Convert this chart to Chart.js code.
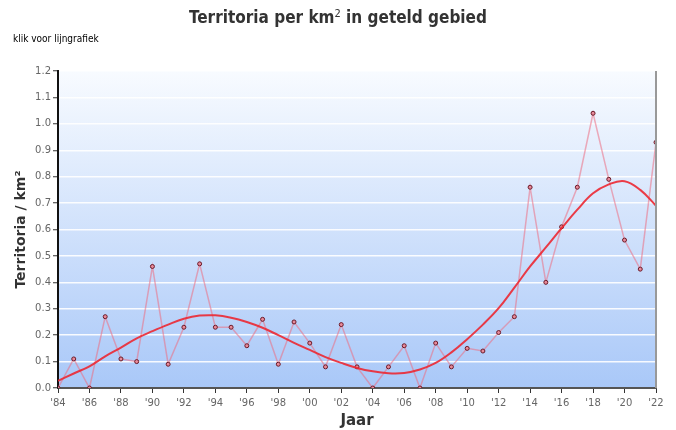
<!DOCTYPE html>
<html lang="nl">
<head>
    <meta charset="UTF-8">
    <title>Territoria per km² in geteld gebied</title>
    <script src="https://cdn.jsdelivr.net/npm/chart.js"></script>
    <style>
        body {
            margin: 0;
            background: #fff;
            font-family: 'DejaVu Sans', sans-serif;
        }
        .wrap {
            position: relative;
            width: 676px;
            height: 430px;
        }
        .title {
            position: absolute;
            left: 0;
            top: 7px;
            width: 676px;
            text-align: center;
            font-family: 'DejaVu Sans Condensed', 'DejaVu Sans', sans-serif;
            font-weight: bold;
            font-size: 17px;
            color: #333;
        }
        .title sup {
            font-size: 11px;
            font-weight: normal;
            vertical-align: 6px;
        }
        .link {
            position: absolute;
            left: 13px;
            top: 33px;
            font-family: 'DejaVu Sans Condensed', 'DejaVu Sans', sans-serif;
            font-size: 10px;
            color: #000;
        }
        canvas {
            position: absolute;
            left: 0;
            top: 0;
        }
    </style>
</head>
<body>
    <div class="wrap">
        <canvas id="chart" width="676" height="430"></canvas>
        <div class="title">Territoria per km<sup>2</sup> in geteld gebied</div>
        <div class="link">klik voor lijngrafiek</div>
    </div>

    <script>
        const years = [1984, 1985, 1986, 1987, 1988, 1989, 1990, 1991, 1992, 1993,
                       1994, 1995, 1996, 1997, 1998, 1999, 2000, 2001, 2002, 2003,
                       2004, 2005, 2006, 2007, 2008, 2009, 2010, 2011, 2012, 2013,
                       2014, 2015, 2016, 2017, 2018, 2019, 2020, 2021, 2022];

        // territoria per km2 per jaar
        const density = [0.00, 0.11, 0.00, 0.27, 0.11, 0.10, 0.46, 0.09, 0.23, 0.47,
                         0.23, 0.23, 0.16, 0.26, 0.09, 0.25, 0.17, 0.08, 0.24, 0.08,
                         0.00, 0.08, 0.16, 0.00, 0.17, 0.08, 0.15, 0.14, 0.21, 0.27,
                         0.76, 0.40, 0.61, 0.76, 1.04, 0.79, 0.56, 0.45, 0.93];

        // trendlijn
        const trend = [0.027, 0.055, 0.082, 0.120, 0.153, 0.188, 0.215, 0.240, 0.262, 0.274,
                       0.275, 0.266, 0.250, 0.228, 0.200, 0.171, 0.144, 0.117, 0.095, 0.076,
                       0.063, 0.056, 0.057, 0.070, 0.095, 0.135, 0.185, 0.240, 0.302, 0.380,
                       0.460, 0.532, 0.605, 0.675, 0.737, 0.771, 0.783, 0.750, 0.690];

        const yTicks = [0, 0.1, 0.2, 0.3, 0.4, 0.5, 0.6, 0.7, 0.8, 0.9, 1.0, 1.1, 1.2];

        const points = (vals) => years.map((y, i) => ({ x: y, y: vals[i] }));

        const plotBackground = {
            id: 'plotBackground',
            beforeDraw(chart) {
                const { ctx, chartArea: a } = chart;
                const g = ctx.createLinearGradient(0, a.top, 0, a.bottom);
                g.addColorStop(0, '#f8fbff');
                g.addColorStop(1, '#a9c8f8');
                ctx.save();
                ctx.fillStyle = g;
                ctx.fillRect(a.left, a.top, a.right - a.left, a.bottom - a.top);
                ctx.restore();
            },
            afterDraw(chart) {
                const { ctx, chartArea: a } = chart;
                ctx.save();
                ctx.strokeStyle = '#999';
                ctx.lineWidth = 2;
                ctx.beginPath();
                ctx.moveTo(a.right, a.top);
                ctx.lineTo(a.right, a.bottom);
                ctx.stroke();
                ctx.restore();
            }
        };

        new Chart(document.getElementById('chart'), {
            type: 'line',
            data: {
                datasets: [
                    {
                        label: 'Trend',
                        data: points(trend),
                        borderColor: 'rgba(236, 40, 50, 0.9)',
                        borderWidth: 2,
                        tension: 0.4,
                        pointRadius: 0,
                        fill: false
                    },
                    {
                        label: 'Territoria per km²',
                        data: points(density),
                        borderColor: 'rgba(236, 110, 130, 0.55)',
                        borderWidth: 1.5,
                        tension: 0,
                        pointRadius: 2,
                        pointBorderWidth: 1,
                        pointBorderColor: '#6a1a28',
                        pointBackgroundColor: '#e88a9a',
                        fill: false
                    }
                ]
            },
            options: {
                responsive: false,
                animation: false,
                layout: {
                    padding: { top: 71, right: 20, bottom: 0, left: 13 }
                },
                plugins: {
                    legend: { display: false },
                    tooltip: { enabled: false }
                },
                scales: {
                    x: {
                        type: 'linear',
                        min: 1984,
                        max: 2022,
                        afterFit(scale) { scale.height = 42; },
                        afterBuildTicks(scale) {
                            scale.ticks = years.filter(y => y % 2 === 0).map(v => ({ value: v }));
                        },
                        ticks: {
                            callback: v => "'" + String(v).slice(2),
                            color: '#666',
                            font: { family: 'DejaVu Sans', size: 10 },
                            padding: 4,
                            maxRotation: 0,
                            autoSkip: false
                        },
                        grid: {
                            drawOnChartArea: false,
                            tickColor: '#333',
                            tickLength: 5,
                            tickWidth: 1
                        },
                        border: { color: '#555', width: 2 },
                        title: {
                            display: true,
                            text: 'Jaar',
                            color: '#333',
                            font: { family: 'DejaVu Sans', size: 15, weight: 'bold' },
                            padding: { top: 0, bottom: 0 }
                        }
                    },
                    y: {
                        min: 0,
                        max: 1.2,
                        afterFit(scale) { scale.width = 45; },
                        afterBuildTicks(scale) {
                            scale.ticks = yTicks.map(v => ({ value: v }));
                        },
                        ticks: {
                            callback: v => v.toFixed(1),
                            color: '#666',
                            font: { family: 'DejaVu Sans', size: 10 },
                            padding: 2
                        },
                        grid: {
                            color: 'rgba(255, 255, 255, 0.9)',
                            lineWidth: 1.5,
                            tickColor: '#333',
                            tickLength: 5,
                            tickWidth: 1
                        },
                        border: { color: '#111', width: 2 },
                        title: {
                            display: true,
                            text: 'Territoria / km²',
                            color: '#333',
                            font: { family: 'DejaVu Sans', size: 14, weight: 'bold' },
                            padding: { top: 0, bottom: 0 }
                        }
                    }
                }
            },
            plugins: [plotBackground]
        });
    </script>
</body>
</html>
